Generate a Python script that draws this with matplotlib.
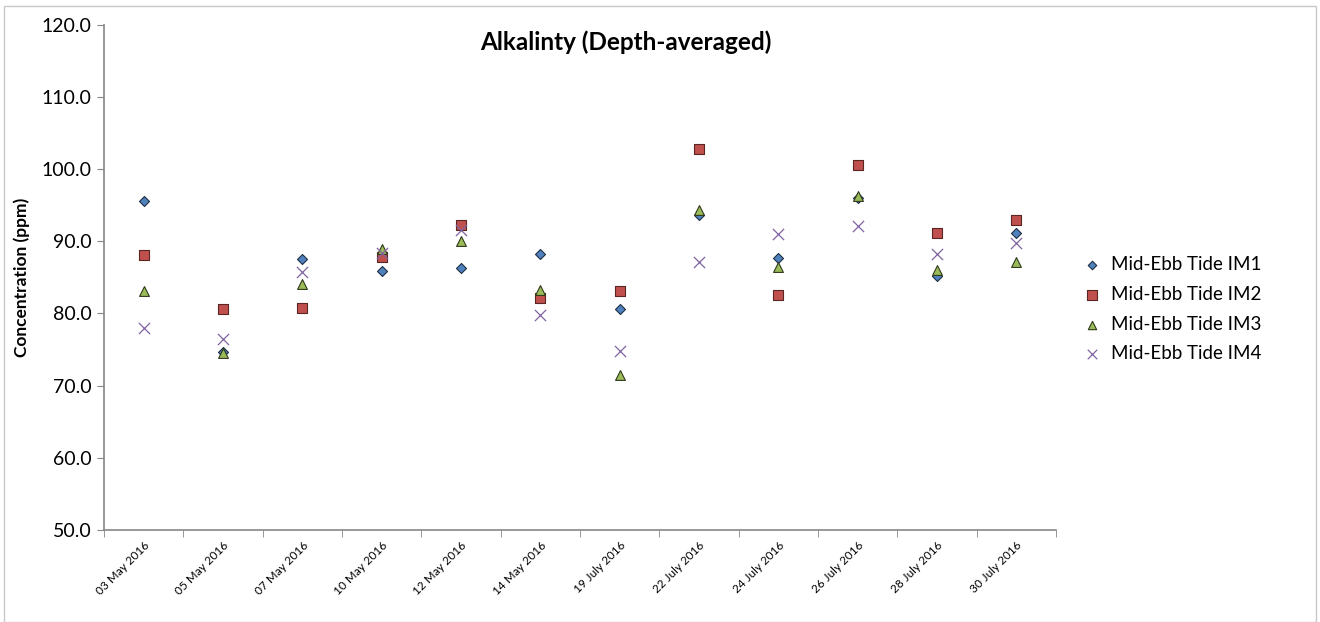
import matplotlib
matplotlib.use("Agg")
import matplotlib.pyplot as plt
from matplotlib.patches import Rectangle
from matplotlib.ticker import FormatStrFormatter

plt.rcParams["font.family"] = ["Lato", "DejaVu Sans"]

# Sampling dates
dates = [
    "03 May 2016", "05 May 2016", "07 May 2016", "10 May 2016",
    "12 May 2016", "14 May 2016", "19 July 2016", "22 July 2016",
    "24 July 2016", "26 July 2016", "28 July 2016", "30 July 2016",
]

# Depth-averaged alkalinity (ppm) per station
im1 = [95.6, 74.7, 87.6, 85.9, 86.3, 88.2, 80.6, 93.6, 87.7, 96.0, 85.2, 91.2]
im2 = [88.1, 80.6, 80.7, 87.8, 92.2, 82.1, 83.1, 102.8, 82.5, 100.6, 91.1, 93.0]
im3 = [83.1, 74.5, 84.1, 88.9, 90.1, 83.2, 71.5, 94.4, 86.5, 96.3, 86.0, 87.1]
im4 = [78.0, 76.5, 85.7, 88.4, 91.6, 79.8, 74.8, 87.2, 91.0, 92.1, 88.2, 89.8]

labels = ["Mid-Ebb Tide IM1", "Mid-Ebb Tide IM2", "Mid-Ebb Tide IM3", "Mid-Ebb Tide IM4"]

fig = plt.figure(figsize=(13.2, 6.22), dpi=100)
ax = fig.add_axes([0.0788, 0.148, 0.7212, 0.812])

x = list(range(len(dates)))

ax.scatter(x, im1, marker="D", s=26, color="#4F81BD", edgecolors="#1f2f45", linewidths=0.8, label=labels[0], zorder=3)
ax.scatter(x, im2, marker="s", s=60, color="#C0504D", edgecolors="#5a2523", linewidths=0.8, label=labels[1], zorder=3)
ax.scatter(x, im3, marker="^", s=50, color="#9BBB59", edgecolors="#2e3a1b", linewidths=0.8, label=labels[2], zorder=3)
ax.scatter(x, im4, marker="x", s=65, color="#8064A2", linewidths=0.9, label=labels[3], zorder=3)

ax.set_xlim(-0.5, len(dates) - 0.5)
ax.set_ylim(50, 120)
ax.set_yticks([50, 60, 70, 80, 90, 100, 110, 120])
ax.yaxis.set_major_formatter(FormatStrFormatter("%.1f"))
ax.tick_params(axis="y", labelsize=14, length=5, color="#868686", pad=4)

# category labels centred, tick marks between categories
ax.set_xticks(x)
ax.set_xticklabels(dates, rotation=45, ha="right", rotation_mode="anchor", fontsize=8.5)
ax.tick_params(axis="x", which="major", length=0, pad=7)
ax.set_xticks([i - 0.5 for i in range(len(dates) + 1)], minor=True)
ax.tick_params(axis="x", which="minor", length=5, color="#868686")

for side in ["top", "right"]:
    ax.spines[side].set_visible(False)
for side in ["left", "bottom"]:
    ax.spines[side].set_color("#868686")
    ax.spines[side].set_linewidth(1.2)

ax.set_ylabel("Concentration (ppm)", fontsize=12.5, fontweight="bold", labelpad=8)
fig.text(0.474, 0.932, "Alkalinty (Depth-averaged)", fontsize=17.5, fontweight="bold", ha="center", va="center")

ax.legend(loc="center left", bbox_to_anchor=(1.01, 0.437), frameon=False, fontsize=13.5,
          handletextpad=0.0, labelspacing=0.68, markerscale=0.85, borderaxespad=0)

fig.patches.append(Rectangle((0.003, 0.0), 0.994, 0.99, transform=fig.transFigure,
                             fill=False, edgecolor="#c8c8c8", linewidth=1.0))

fig.savefig("out.png", dpi=100)
